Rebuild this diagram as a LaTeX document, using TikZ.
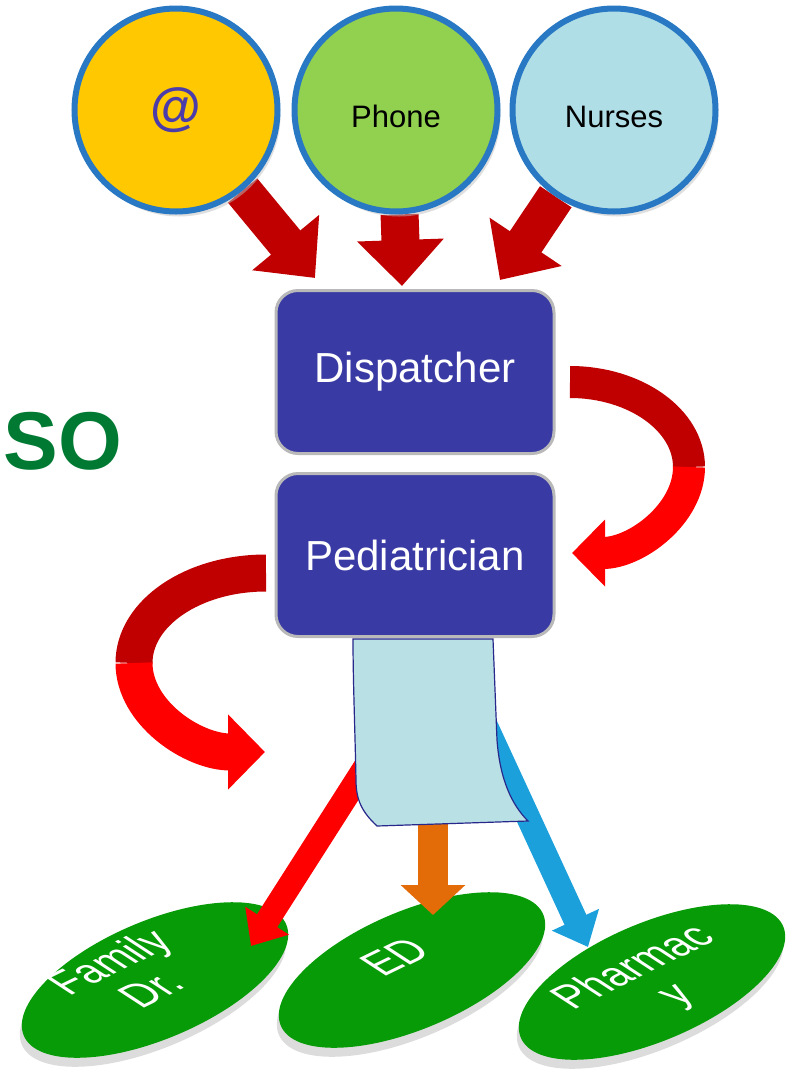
\documentclass[tikz,border=0pt]{standalone}
\usepackage{fontspec}
\setmainfont{Liberation Sans}
\usetikzlibrary{positioning,arrows.meta,shapes.geometric,shadows,backgrounds}

\definecolor{arrowred}{RGB}{192,0,0}
\definecolor{brightred}{RGB}{255,0,0}
\definecolor{ringblue}{RGB}{40,120,195}
\definecolor{mailgold}{RGB}{255,200,0}
\definecolor{phonegreen}{RGB}{146,208,80}
\definecolor{nurseblue}{RGB}{176,222,230}
\definecolor{boxblue}{RGB}{58,58,165}
\definecolor{paperblue}{RGB}{185,224,228}
\definecolor{paperline}{RGB}{40,40,140}
\definecolor{ovalgreen}{RGB}{8,155,8}
\definecolor{sogreen}{RGB}{0,122,51}
\definecolor{atpurple}{RGB}{75,60,170}
\definecolor{edorange}{RGB}{227,108,9}
\definecolor{pharmblue}{RGB}{28,160,220}

\begin{document}
\begin{tikzpicture}[x=1pt, y=-1pt, node distance=220pt,
  source/.style={circle, draw=ringblue, line width=6pt, minimum size=203pt,
    font=\fontsize{31}{36}\selectfont,
    drop shadow={shadow xshift=3pt, shadow yshift=-5pt, fill=gray!50}},
  desk/.style={rectangle, rounded corners=22pt, fill=boxblue, draw=gray!55,
    line width=3pt, minimum width=278pt, minimum height=163pt, text=white,
    font=\fontsize{42}{48}\selectfont},
  target/.style={ellipse, fill=ovalgreen, minimum width=285pt,
    minimum height=118pt, rotate=23,
    drop shadow={shadow xshift=-2pt, shadow yshift=-9pt, fill=gray!55}},
  targettext/.style={text=white, align=center, rotate=26, xslant=-0.6,
    font=\fontsize{40}{43}\selectfont},
  inarrow/.style={draw=arrowred, line width=38pt,
    -{Triangle[width=84pt,length=46pt]}},
  outarrow/.style={line width=24pt, -{Triangle[width=50pt,length=30pt]}}]
  \useasboundingbox (0,0) rectangle (787,1072);

  \node [source, fill=mailgold, text=atpurple,
  font=\fontsize{52}{52}\selectfont\bfseries] (mail) at (176,110) {@};
  \node [source, fill=phonegreen, right of = mail, text height=34pt,
  text depth=0pt] (phone) {Phone};
  \node [source, fill=nurseblue, right of = phone, node distance = 218pt,
  text height=34pt, text depth=0pt] (nurses) {Nurses};

  \node [text=sogreen, font=\fontsize{82}{82}\selectfont\bfseries] (so)
  at (63,441) {SO};

  \node [desk] (disp) at (415,372) {Dispatcher};
  \node [desk, below of = disp, node distance = 183pt] (ped) {Pediatrician};

  % arrows into the dispatcher
  \coordinate (mailend) at (315,278);
  \coordinate (phoneend) at (402,286);
  \coordinate (nursesend) at (500,280);
  \begin{pgfonlayer}{background}
    \draw [inarrow] (mail) -- (mailend);
    \draw [inarrow] (phone) -- (phoneend);
    \draw [inarrow] (nurses) -- (nursesend);
  \end{pgfonlayer}

  % dispatcher hands over to the pediatrician
  \coordinate (dispout) at (570,382);
  \coordinate (dispturn) at (689,467);
  \coordinate (pedin) at (572,553);
  \draw [draw=arrowred, line width=32pt] (dispout) .. controls +(65,0)
  and +(0,-47) .. (dispturn);
  \draw [draw=brightred, line width=32pt, -{Triangle[width=65pt,length=33pt]}]
  (dispturn) .. controls +(0,47) and +(64,0) .. (pedin);

  % pediatrician writes the note
  \coordinate (pedout) at (266,573);
  \coordinate (pedturn) at (134,663);
  \coordinate (notein) at (265,752);
  \draw [draw=arrowred, line width=37pt] (pedout) .. controls +(-73,0)
  and +(0,-50) .. (pedturn);
  \draw [draw=brightred, line width=37pt, -{Triangle[width=73pt,length=37pt]}]
  (pedturn) .. controls +(0,50) and +(-72,0) .. (notein);

  \node [target] (fam) at (155,980) {};
  \node [target] (ed) at (412,970) {};
  \node [target] (pharm) at (652,982) {};
  \node [targettext] (famtext) at (129,975) {Family\\Dr.};
  \node [targettext] (edtext) at (395,957) {ED};
  \node [targettext] (pharmtext) at (656,982) {Pharmac\\y};

  \coordinate (famfrom) at (408,700);
  \coordinate (famtip) at (251,946);
  \coordinate (edfrom) at (433,790);
  \coordinate (edtip) at (433,915);
  \coordinate (pharmfrom) at (474,700);
  \coordinate (pharmtip) at (588,947);
  \draw [outarrow, draw=brightred] (famfrom) -- (famtip);
  \draw [outarrow, draw=edorange, line width=30pt,
  -{Triangle[width=63pt,length=30pt]}] (edfrom) -- (edtip);
  \draw [outarrow, draw=pharmblue] (pharmfrom) -- (pharmtip);

  % the note
  \draw [draw=paperline, fill=paperblue, line width=1.2pt] (353,639)
  -- (493,639) -- (497,740) .. controls (500,780) and (512,805) .. (528,821)
  -- (377,826) .. controls (362,812) and (356,800) .. (356,780)
  .. controls (355,730) and (353,680) .. (353,639) -- cycle;
\end{tikzpicture}
\end{document}
